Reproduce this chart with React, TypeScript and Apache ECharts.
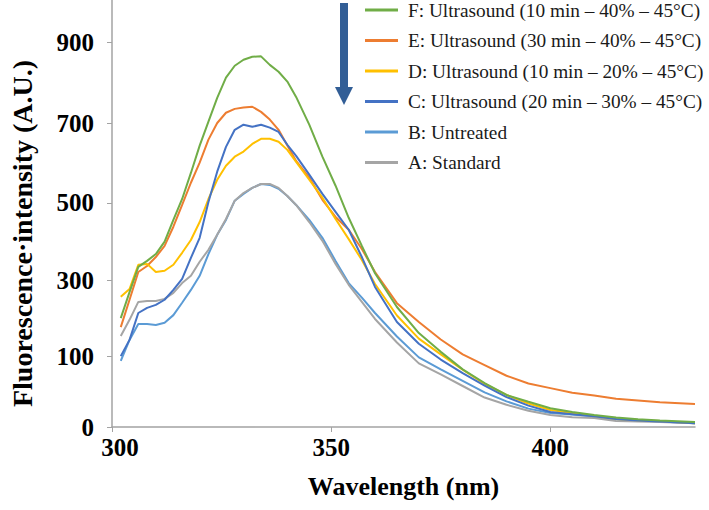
import React, { useEffect, useRef } from "react";
import * as echarts from "echarts";

// Wavelength grid (nm)
const wavelengths = [302, 304, 306, 308, 310, 312, 314, 316, 318, 320, 322, 324, 326, 328, 330, 332, 334, 336, 338, 340, 342, 345, 348, 351, 354, 357, 360, 365, 370, 375, 380, 385, 390, 395, 400, 405, 410, 415, 420, 425, 433];

// Fluorescence intensity (A.U.) per sample
const seriesF = [255, 316, 375, 389, 405, 434, 485, 534, 595, 659, 715, 771, 818, 846, 860, 867, 868, 848, 832, 809, 773, 708, 633, 565, 490, 424, 360, 281, 220, 176, 135, 103, 75, 59, 44, 35, 28, 22, 18, 15, 12];
const seriesE = [234, 298, 363, 377, 398, 424, 469, 520, 572, 619, 673, 712, 736, 745, 748, 750, 738, 720, 696, 659, 623, 584, 532, 492, 462, 417, 363, 290, 246, 205, 170, 145, 120, 102, 91, 80, 74, 66, 62, 58, 54];
const seriesD = [305, 323, 380, 382, 363, 366, 380, 408, 438, 480, 534, 579, 612, 633, 645, 663, 675, 675, 668, 649, 621, 579, 537, 487, 440, 391, 335, 261, 207, 170, 134, 101, 75, 55, 40, 33, 26, 19, 16, 14, 9];
const seriesC = [166, 204, 267, 279, 286, 298, 321, 347, 396, 443, 527, 598, 656, 696, 708, 703, 708, 701, 691, 661, 635, 591, 546, 504, 462, 398, 328, 246, 195, 158, 126, 97, 70, 50, 35, 30, 25, 19, 15, 13, 9];
const seriesB = [155, 204, 241, 241, 239, 244, 262, 291, 321, 354, 405, 450, 485, 530, 546, 560, 569, 567, 558, 541, 520, 485, 443, 389, 337, 303, 267, 212, 163, 135, 108, 81, 60, 43, 33, 29, 25, 18, 15, 13, 9];
const seriesA = [213, 251, 293, 295, 295, 300, 314, 337, 354, 387, 415, 450, 487, 530, 548, 560, 569, 569, 560, 541, 520, 480, 436, 382, 333, 293, 253, 198, 149, 123, 96, 69, 52, 38, 28, 23, 21, 14, 13, 12, 9];

const nameA = "A: Standard";
const nameB = "B: Untreated";
const nameC = "C: Ultrasound (20 min – 30% – 45°C)";
const nameD = "D: Ultrasound (10 min – 20% – 45°C)";
const nameE = "E: Ultrasound (30 min – 40% – 45°C)";
const nameF = "F: Ultrasound (10 min – 40% – 45°C)";

// Y tick labels as printed in the figure and the axis values where they sit
const yTickLabels = ["0", "100", "300", "500", "700", "900"];
const yTickValues = [0, 166, 344, 525, 711, 900];

const xTicks = [300, 350, 400];

const FONT = "Liberation Serif";

export default function App() {
  const ref = useRef<HTMLDivElement>(null);
  useEffect(() => {
    document.body.style.margin = "0";
    if (!ref.current) return;
    const chart = echarts.init(ref.current, undefined, { renderer: "svg" });
    const pair = (vals: number[]) => wavelengths.map((w, i) => [w, vals[i]]);
    const mk = (name: string, vals: number[], color: string) => ({
      name,
      type: "line",
      data: pair(vals),
      symbol: "none",
      showSymbol: false,
      lineStyle: { color, width: 2 },
      itemStyle: { color },
      z: 2,
    });
    const tickFont = { fontFamily: FONT, fontWeight: "bold", fontSize: 25, color: "#000" };
    chart.setOption({
      animation: false,
      backgroundColor: "#ffffff",
      grid: { left: 102, top: 0, width: 593, height: 427, containLabel: false },
      xAxis: {
        type: "value",
        min: 300,
        max: 433,
        interval: 50,
        name: "Wavelength (nm)",
        nameLocation: "middle",
        nameGap: 46,
        nameTextStyle: { fontFamily: FONT, fontWeight: "bold", fontSize: 26, color: "#000" },
        axisLine: { lineStyle: { color: "#a3a3a3", width: 1.5 } },
        axisTick: { show: true, length: 5, lineStyle: { color: "#a3a3a3" } },
        axisLabel: {
          margin: 8,
          ...tickFont,
          formatter: (v: number) => {
            if (!xTicks.includes(v)) return "";
            return v === xTicks[0] ? `{first|${v}}` : String(v);
          },
          rich: { first: { ...tickFont, padding: [0, 0, 0, 16] } },
          showMaxLabel: false,
        },
        splitLine: { show: false },
      },
      yAxis: {
        type: "value",
        min: 0,
        max: 1000,
        name: "Fluorescence·intensity (A.U.)",
        nameLocation: "middle",
        nameGap: 76,
        nameTextStyle: { fontFamily: FONT, fontWeight: "bold", fontSize: 28, color: "#000", padding: [0, 40, 0, 0] },
        axisLine: { show: true, lineStyle: { color: "#a3a3a3", width: 1.5 } },
        axisTick: { show: true, length: 5, customValues: yTickValues, lineStyle: { color: "#a3a3a3" } },
        axisLabel: {
          customValues: yTickValues,
          margin: 18,
          ...tickFont,
          formatter: (v: number) => {
            const i = yTickValues.indexOf(v);
            return i >= 0 ? yTickLabels[i] : "";
          },
        },
        splitLine: { show: false },
      },
      legend: {
        orient: "vertical",
        left: 365,
        top: 0,
        padding: 0,
        itemWidth: 33,
        itemHeight: 3,
        itemGap: 10.5,
        icon: "rect",
        data: [nameF, nameE, nameD, nameC, nameB, nameA],
        textStyle: { fontFamily: FONT, fontSize: 19.3, lineHeight: 20, color: "#1a1a1a", padding: [0, 0, 0, 5] },
      },
      graphic: [
        {
          type: "group",
          children: [
            { type: "rect", shape: { x: 340, y: 3, width: 8, height: 86 }, style: { fill: "#325e96" } },
            { type: "polygon", shape: { points: [[335, 87], [353, 87], [344, 105]] }, style: { fill: "#325e96" } },
          ],
        },
      ],
      series: [
        mk(nameB, seriesB, "#5b9bd5"),
        mk(nameE, seriesE, "#ed7d31"),
        mk(nameA, seriesA, "#a5a5a5"),
        mk(nameD, seriesD, "#ffc000"),
        mk(nameC, seriesC, "#4472c4"),
        mk(nameF, seriesF, "#70ad47"),
      ],
    });
    return () => chart.dispose();
  }, []);
  return <div ref={ref} style={{ width: 709, height: 510 }} />;
}
